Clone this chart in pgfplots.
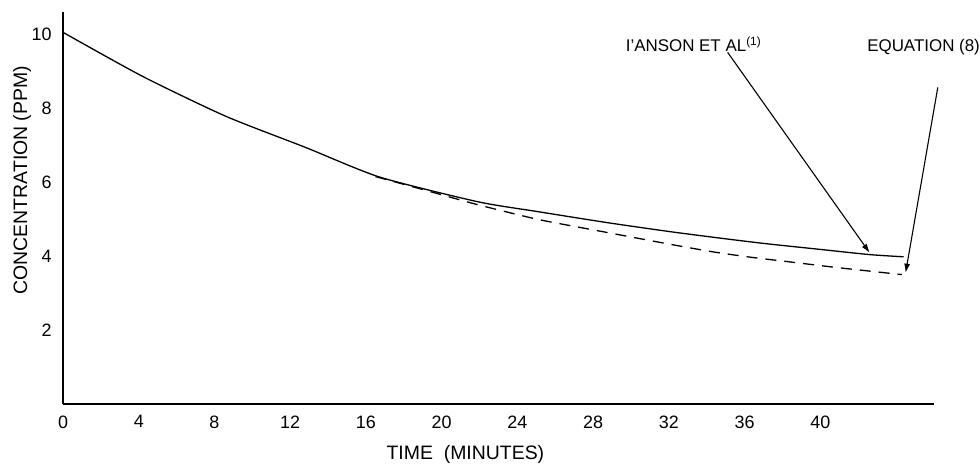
\documentclass[border=0pt]{standalone}
\usepackage{fontspec}
\setmainfont{Liberation Sans}
\usepackage{pgfplots}
\pgfplotsset{compat=1.18}
\usetikzlibrary{arrows.meta}
\begin{document}
\begin{tikzpicture}
\begin{axis}[
 scale only axis, width=871bp, height=392bp,
 xmin=0, xmax=46, ymin=0, ymax=10.6,
 axis x line=bottom, axis y line=left,
 axis line style={-, line width=1.4bp},
 xtick={0,4,...,40}, ytick={2,4,6,8,10},
 major tick length=0pt,
 tick label style={font=\fontsize{18}{18}\selectfont},
 /pgf/number format/assume math mode=true,
 xticklabel style={yshift=-8bp},
 yticklabel style={xshift=-8bp},
 xlabel={TIME\ \ (MINUTES)}, ylabel={CONCENTRATION (PPM)},
 label style={font=\fontsize{19.5}{19.5}\selectfont},
 xlabel style={at={(axis description cs:0.462,-0.130)}, anchor=center},
 ylabel style={at={(axis description cs:-0.047,0.571)}, anchor=center},
 clip=false,
]
\addplot[black, line width=1.3bp, smooth, tension=0.4] coordinates {
 (0,10.05) (4.2,8.86) (8.6,7.78) (12.8,6.94) (16.7,6.14) (21.9,5.47)
 (25.1,5.2) (28.8,4.9) (32.5,4.63) (36.7,4.36) (40,4.18) (42.6,4.04) (44.4,3.98)
};
\addplot[black, line width=1.3bp, dash pattern=on 11bp off 8bp, smooth, tension=0.4] coordinates {
 (16.5,6.15) (19,5.8) (21.9,5.39) (25.1,4.99) (28.3,4.68) (30.9,4.43)
 (32.8,4.25) (34.5,4.1) (36.3,3.97) (38.1,3.86) (40.7,3.7) (43.2,3.56) (44.3,3.5)
};
\draw[black, line width=1.1bp, -{Latex[length=9bp,width=6bp]}] (axis cs:35.1,9.51) -- (axis cs:42.6,4.09);
\draw[black, line width=1.1bp, -{Latex[length=9bp,width=6bp]}] (axis cs:46.2,8.56) -- (axis cs:44.5,3.55);
\node[font=\fontsize{17}{17}\selectfont] at (axis cs:33.3,9.73) {I’ANSON ET AL\textsuperscript{(1)}};
\node[font=\fontsize{17}{17}\selectfont] at (axis cs:45.45,9.65) {EQUATION (8)};
\end{axis}
\pgfresetboundingbox
\path ([xshift=-63bp,yshift=-64bp]current axis.south west) rectangle ([xshift=46bp,yshift=12bp]current axis.north east);
\end{tikzpicture}
\end{document}
